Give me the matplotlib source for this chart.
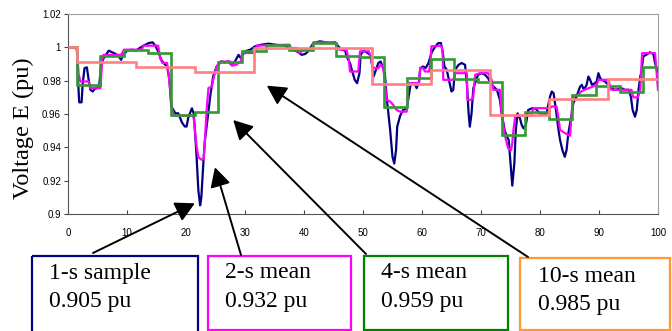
import numpy as np
import matplotlib
matplotlib.use("Agg")
import matplotlib.pyplot as plt
from matplotlib.patches import Rectangle

# 1-s sample (key points)
sample_t = [0, 1.5, 1.7, 1.9, 2.3, 2.5, 2.8, 3.2, 3.5, 3.8, 4.2, 4.5, 4.9, 5.3, 5.65, 6.05,
            6.9, 7.5, 8.1, 8.6, 9.0, 9.4, 10.0, 10.8, 11.5, 12.1, 12.8, 13.7, 14.35, 14.8,
            15.4, 15.8, 16.2, 16.8, 17.2, 17.5, 18.2, 18.7, 19.3, 19.8, 20.1, 20.4, 21.0,
            21.3, 21.5, 21.8, 22.1, 22.4, 22.6, 22.8, 23.0, 23.2, 23.7, 24.1, 24.6, 25.2,
            26.0, 26.6, 27.2, 27.7, 28.3, 28.9, 29.3, 30.0, 30.9, 31.7, 32.8, 34.0, 35.1,
            36.8, 37.9, 38.8, 39.6, 40.2, 40.7, 41.6, 42.7, 44.4, 45.3, 45.8, 46.4, 47.0,
            47.2, 47.8, 48.1, 48.6, 49.0, 49.4, 49.6, 50.1, 50.6, 51.2, 51.5, 51.8, 52.2,
            52.6, 53.0, 53.3, 53.7, 54.0, 54.6, 55.0, 55.3, 55.6, 55.8, 56.3, 56.8, 57.4,
            57.7, 58.0, 58.2, 58.7, 59.1, 59.5, 59.7, 60.2, 60.6, 61.1, 61.6, 61.9, 62.5,
            62.8, 63.2, 63.5, 63.8, 64.2, 64.5, 65.0, 65.3, 65.6, 66.2, 66.7, 67.3, 67.6,
            67.9, 68.1, 68.4, 68.7, 69.0, 69.5, 70.1, 70.7, 71.2, 71.8, 72.7, 73.2, 73.5,
            74.0, 74.4, 74.7, 75.1, 75.3, 75.65, 75.9, 76.2, 76.6, 76.9, 77.2, 77.6, 78.0,
            78.6, 79.2, 79.7, 80.3, 81.1, 81.7, 82.0, 82.3, 82.7, 83.1, 83.4, 83.8, 84.2,
            84.5, 84.8, 85.1, 85.4, 85.65, 85.9, 86.2, 86.5, 86.8, 87.1, 87.3, 87.6, 87.9,
            88.2, 88.5, 88.8, 89.3, 89.6, 89.9, 90.2, 90.5, 91.0, 91.6, 92.1, 92.7, 93.3,
            93.8, 94.4, 95.0, 95.4, 95.7, 96.1, 96.4, 96.7, 97.0, 97.2, 97.5, 98.0, 98.6,
            99.2, 99.5, 99.8, 100]
sample_v = [1.0, 0.9995, 0.9805, 0.967, 0.967, 0.9785, 0.9875, 0.988, 0.9805, 0.9745, 0.9735,
            0.975, 0.9755, 0.9775, 0.9906, 0.9935, 0.998, 0.997, 0.996, 0.9946, 0.9925,
            0.9955, 0.998, 0.9986, 0.998, 0.9995, 1.001, 1.0026, 1.003, 1.001, 0.9966,
            0.9925, 0.9906, 0.9885, 0.9805, 0.9645, 0.9604, 0.9604, 0.955, 0.9525, 0.9525,
            0.958, 0.9634, 0.9604, 0.951, 0.934, 0.914, 0.9052, 0.910, 0.922, 0.934, 0.944,
            0.9584, 0.9705, 0.9825, 0.9885, 0.9915, 0.991, 0.9915, 0.9895, 0.9915, 0.9955,
            0.9935, 0.9976, 0.9986, 1.0006, 1.0016, 1.0022, 1.0016, 1.001, 0.9986, 0.9976,
            0.9955, 0.996, 0.9976, 1.0026, 1.0036, 1.0026, 1.003, 1.0006, 0.9986, 0.998,
            0.9946, 0.9906, 0.9865, 0.9805, 0.9785, 0.9845, 0.9955, 0.998, 0.997, 0.9955,
            0.9906, 0.9825, 0.9865, 0.9906, 0.9915, 0.9885, 0.9845, 0.9705, 0.9504, 0.9343,
            0.9303, 0.9383, 0.9524, 0.959, 0.9624, 0.9634, 0.9695, 0.9765, 0.9785, 0.9785,
            0.9755, 0.9795, 0.9875, 0.9885, 0.9875, 0.9906, 0.9965, 0.9986, 1.0016, 1.0026,
            1.0026, 0.9976, 0.9885, 0.9865, 0.9815, 0.9735, 0.9745, 0.9865, 0.9895, 0.9906,
            0.9895, 0.9785, 0.9604, 0.9524, 0.9604, 0.9755, 0.9785, 0.9835, 0.9845, 0.9835,
            0.9815, 0.9775, 0.9745, 0.9685, 0.9604, 0.9504, 0.9464, 0.9444, 0.9263, 0.917,
            0.9303, 0.9504, 0.9604, 0.9574, 0.9534, 0.9514, 0.9534, 0.9624, 0.9634, 0.9634,
            0.9614, 0.9594, 0.9604, 0.9705, 0.9735, 0.9725, 0.9624, 0.9514, 0.9444, 0.9383,
            0.9343, 0.9383, 0.9484, 0.9544, 0.9604, 0.9665, 0.9685, 0.9705, 0.9735, 0.9765,
            0.9775, 0.9755, 0.9755, 0.9775, 0.9825, 0.9805, 0.9775, 0.9785, 0.9795, 0.9845,
            0.9815, 0.9805, 0.9795, 0.9775, 0.9755, 0.9745, 0.9749, 0.9755, 0.9745, 0.9745,
            0.9705, 0.9624, 0.9584, 0.9624, 0.9745, 0.9825, 0.9855, 0.9946, 0.9955, 0.997,
            0.9962, 0.9906, 0.9865, 0.985]

# 2-s mean
mean2_t = [0, 1.5, 1.8, 2.1, 3.5, 3.8, 5.5, 5.8, 6.0, 9.0, 9.5, 12.5, 12.8, 15.3, 15.6, 16.0,
           16.8, 17.1, 17.6, 18.0, 21.0, 21.3, 21.5, 21.8, 22.1, 22.7, 23.0, 23.2, 23.5,
           23.8, 24.4, 24.6, 25.2, 25.8, 27.5, 27.8, 28.5, 29.3, 29.5, 31.7, 32.0, 37.5,
           37.8, 38.8, 39.2, 40.0, 41.3, 41.6, 45.3, 45.6, 46.0, 47.2, 47.6, 47.8, 49.2,
           49.5, 51.0, 51.2, 51.6, 52.0, 52.6, 53.0, 53.4, 53.6, 54.0, 54.6, 55.1, 55.7,
           56.3, 57.4, 57.7, 59.5, 59.7, 60.2, 60.5, 61.2, 61.4, 61.6, 63.3, 63.5, 63.6,
           65.3, 65.6, 67.6, 67.7, 68.4, 68.7, 69.0, 69.8, 71.2, 71.5, 71.8, 72.1, 73.2,
           73.5, 73.8, 74.1, 74.6, 75.1, 75.3, 75.5, 75.8, 76.0, 78.5, 78.9, 81.7, 82.0,
           82.8, 83.1, 83.4, 84.5, 85.1, 85.4, 85.7, 86.5, 87.0, 87.5, 89.0, 89.6, 89.9,
           91.6, 91.9, 92.1, 95.5, 95.8, 96.6, 97.0, 97.3, 99.5, 100]
mean2_v = [1.0, 0.9995, 0.984, 0.9795, 0.9795, 0.9755, 0.9755, 0.9926, 0.9955, 0.9955,
           0.9986, 0.9986, 1.001, 1.001, 0.9935, 0.9906, 0.9906, 0.9825, 0.9634, 0.959,
           0.959, 0.958, 0.9504, 0.9404, 0.934, 0.9325, 0.933, 0.944, 0.9625, 0.9755,
           0.9765, 0.9805, 0.9885, 0.9915, 0.9915, 0.989, 0.9895, 0.9915, 0.9966, 0.9966,
           1.001, 1.0016, 0.9996, 0.9996, 0.9966, 0.9986, 0.9986, 1.003, 1.003, 0.9996,
           0.9986, 0.9986, 0.9925, 0.9855, 0.9855, 0.9976, 0.9976, 0.9955, 0.9885, 0.9875,
           0.9875, 0.9895, 0.9885, 0.9825, 0.9685, 0.9675, 0.9655, 0.9624, 0.9614, 0.9614,
           0.9785, 0.9785, 0.9875, 0.9875, 0.9855, 0.9855, 0.9906, 1.0006, 1.001, 0.9966,
           0.9805, 0.9805, 0.9845, 0.9845, 0.9685, 0.9685, 0.9705, 0.9835, 0.9845, 0.9845,
           0.9825, 0.9805, 0.9745, 0.9745, 0.9604, 0.9524, 0.9464, 0.9394, 0.9383, 0.9424,
           0.9504, 0.9584, 0.959, 0.959, 0.9635, 0.9635, 0.9645, 0.9645, 0.9584, 0.9504,
           0.948, 0.947, 0.9624, 0.9705, 0.9715, 0.9735, 0.9745, 0.9765, 0.9775, 0.9805,
           0.9805, 0.9765, 0.9745, 0.9745, 0.970, 0.970, 0.9745, 0.9965, 0.9965, 0.9745]

# 4-s mean (steps)
mean4_edges = [0, 1.5, 5.5, 9.5, 13.5, 17.5, 21.5, 25.5, 29.5, 33.5, 37.5, 41.5, 45.5, 49.5,
               53.5, 57.5, 61.5, 65.5, 69.5, 73.5, 77.5, 81.5, 85.5, 89.5, 93.5, 97.5, 100]
mean4_vals = [1.0, 0.9775, 0.9951, 0.9985, 0.9966, 0.9594, 0.961, 0.9915, 0.9976, 1.0016,
              0.9986, 1.0026, 0.9946, 0.994, 0.9645, 0.9815, 0.993, 0.9808, 0.979, 0.9472,
              0.9614, 0.957, 0.9715, 0.977, 0.9735, 0.988]

# 10-s mean (steps)
mean10_edges = [0, 1.6, 11.6, 21.6, 31.6, 41.6, 51.6, 61.6, 71.6, 81.6, 91.6, 100]
mean10_vals = [1.0, 0.991, 0.988, 0.985, 0.9996, 0.9996, 0.978, 0.9866, 0.9595, 0.969, 0.981]

fig = plt.figure(figsize=(6.72, 3.31), dpi=100)
W, H = 672, 331
ax = fig.add_axes([68 / W, 1 - 214 / H, 590 / W, 200 / H])

ax.plot(sample_t, sample_v, color="#000080", lw=1.6, zorder=2)
ax.plot(mean2_t, mean2_v, color="#FF00FF", lw=1.6, zorder=3)
ax.stairs(mean4_vals, mean4_edges, baseline=None, color="#339933", lw=1.9, zorder=4)
ax.stairs(mean10_vals, mean10_edges, baseline=None, color="#FF8080", lw=1.9, zorder=5)

ax.set_xlim(0, 100)
ax.set_ylim(0.9, 1.02)
ax.set_xticks(np.arange(0, 101, 10))
ax.set_yticks([0.9, 0.92, 0.94, 0.96, 0.98, 1.0, 1.02])
ax.set_yticklabels(["0.9", "0.92", "0.94", "0.96", "0.98", "1", "1.02"])
for lab in ax.get_xticklabels() + ax.get_yticklabels():
    lab.set_family("Liberation Sans")
    lab.set_fontsize(7)
ax.tick_params(axis="x", direction="in", length=3, pad=10, colors="#444444", labelcolor="black")
ax.tick_params(axis="y", direction="out", length=3, pad=2, colors="#444444", labelcolor="black")
for s in ["top", "right"]:
    ax.spines[s].set_color("#a0a0a0")
for s in ["left", "bottom"]:
    ax.spines[s].set_color("#555555")

# overlay in pixel coordinates for labels, boxes, arrows
ann = fig.add_axes([0, 0, 1, 1], zorder=10)
ann.set_xlim(0, W)
ann.set_ylim(H, 0)
ann.axis("off")
ann.patch.set_alpha(0)

ann.text(23, 128, "Voltage E (pu)", rotation=90, ha="center", va="center",
         family="Liberation Serif", fontsize=17.5)

boxes = [
    (32, 255.5, 166, 80, "#000080", 49, 273, "1-s sample", "0.905 pu", (21.5, 0.9064), (93, 253)),
    (208, 255.5, 142.5, 74.5, "#FF00FF", 225, 273, "2-s mean", "0.932 pu", (24.9, 0.928), (241, 255)),
    (363.5, 255.5, 144.5, 74, "#008000", 381, 273, "4-s mean", "0.959 pu", (28.0, 0.9564), (366, 254)),
    (519.5, 258, 150, 71.5, "#FF9933", 538, 276, "10-s mean", "0.985 pu", (33.7, 0.977), (528, 257)),
]
for x0, y0, w, h, col, tx, ty, l1, l2, tip, tail in boxes:
    ann.add_patch(Rectangle((x0, y0), w, h, fill=False, edgecolor=col, lw=1.6))
    ann.text(tx, ty, l1, ha="left", va="center", family="Liberation Serif", fontsize=17)
    ann.text(tx, ty + 28.5, l2, ha="left", va="center", family="Liberation Serif", fontsize=17)
    ann.annotate("", xy=tip, xycoords=ax.transData, xytext=tail, textcoords="data",
                 arrowprops=dict(arrowstyle="-|>,head_length=0.45,head_width=0.24",
                                 color="black", lw=1.4, mutation_scale=26,
                                 shrinkA=0, shrinkB=0))

fig.savefig("out.png", dpi=100)
